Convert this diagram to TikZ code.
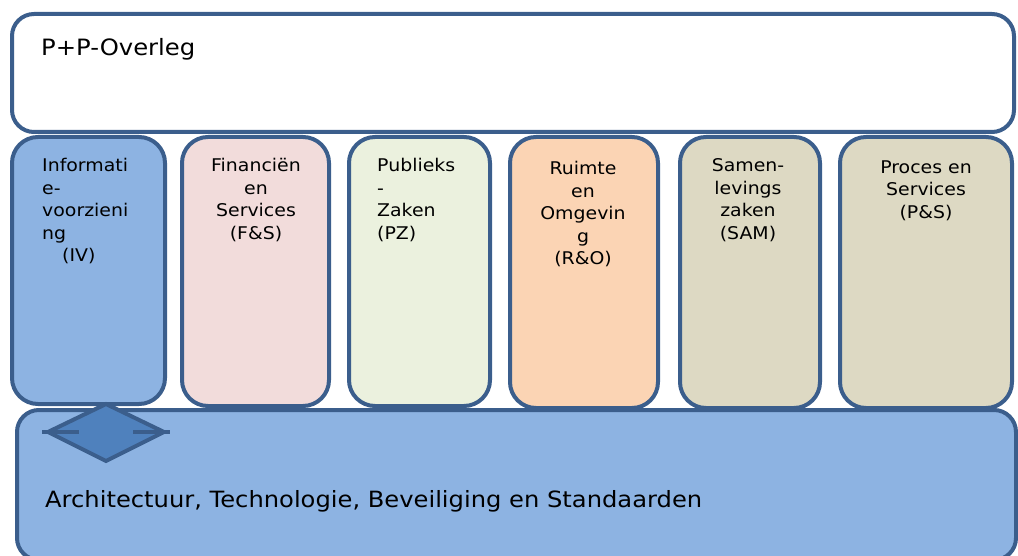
\documentclass[tikz,border=0pt]{standalone}
\usepackage{fontspec}
\setmainfont{DejaVu Sans}[FakeStretch=1.08]
\definecolor{bordc}{HTML}{3B5E8C}
\definecolor{cblue}{HTML}{8DB3E2}
\definecolor{cpink}{HTML}{F2DCDB}
\definecolor{cgreen}{HTML}{EBF1DE}
\definecolor{corange}{HTML}{FBD4B4}
\definecolor{ctan}{HTML}{DDD9C3}
\definecolor{cdia}{HTML}{4F81BD}
\begin{document}
\begin{tikzpicture}[x=1pt,y=-1pt,
  panel/.style={draw=bordc,line width=4pt,rounded corners=22pt},
  col/.style={draw=bordc,line width=4pt,rounded corners=26pt},
  ctext/.style={inner sep=0pt,font=\fontsize{17.5}{22.5}\selectfont,align=center,anchor=north},
  ltext/.style={inner sep=0pt,font=\fontsize{17.5}{22.5}\selectfont,align=left,anchor=north west}]
\useasboundingbox (0,0) rectangle (1018,556);
\clip (0,0) rectangle (1018,556);
% top panel
\draw[panel,fill=white] (12,14) rectangle (1014,132);
\node[anchor=base west,inner sep=0pt,font=\fontsize{22.5}{26}\selectfont] (top) at (41,56) {P+P-Overleg};
% columns
\draw[col,fill=cblue] (12,137) rectangle (165,404);
\draw[col,fill=cpink] (182,137) rectangle (329,406);
\draw[col,fill=cgreen] (349,137) rectangle (490,406);
\draw[col,fill=corange] (510,137) rectangle (658,408);
\draw[col,fill=ctan] (680,137) rectangle (820,408);
\draw[col,fill=ctan] (840,137) rectangle (1012,408);
\node[ltext] (iv) at (42,158.5) {Informati\\e-\\voorzieni\\ng\\\hspace*{20pt}(IV)};
\node[ctext] (fs) at (256,158.5) {Financiën\\en\\Services\\(F\&S)};
\node[ltext] (pz) at (377,158.5) {Publieks\\-\\Zaken\\(PZ)};
\node[ctext] (ro) at (583,161.5) {Ruimte\\en\\Omgevin\\g\\(R\&O)};
\node[ctext] (sam) at (748,158.5) {Samen-\\levings\\zaken\\(SAM)};
\node[ctext] (ps) at (926,160.5) {Proces en\\Services\\(P\&S)};
% bottom panel
\draw[panel,fill=cblue] (17,410) rectangle (1016,560);
\node[anchor=base west,inner sep=0pt,font=\fontsize{22.4}{26}\selectfont] (atbs) at (45,507) {Architectuur, Technologie, Beveiliging en Standaarden};
% diamond connector
\coordinate (dl) at (42,432);
\coordinate (dr) at (170,432);
\draw[draw=bordc,line width=4pt,fill=cdia,line join=miter] (106,404) -- (164,432) -- (106,461) -- (48,432) -- cycle;
\draw[bordc,line width=4pt] (dl) -- (79,432);
\draw[bordc,line width=4pt] (133,432) -- (dr);
\end{tikzpicture}
\end{document}
